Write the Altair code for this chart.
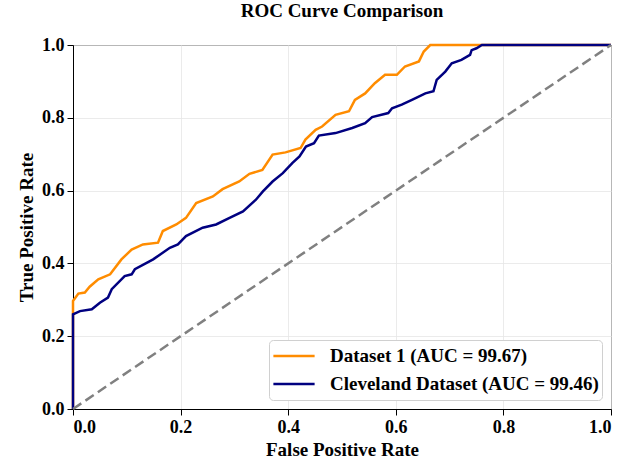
import altair as alt
import pandas as pd

# Dataset 1 ROC (FPR, TPR)
d1_fpr = [0.0, 0.0, 0.010, 0.022, 0.031, 0.047, 0.069, 0.090, 0.109, 0.130, 0.158, 0.167, 0.192,
          0.210, 0.229, 0.260, 0.278, 0.309, 0.328, 0.352, 0.371, 0.395, 0.423, 0.432, 0.451,
          0.463, 0.488, 0.513, 0.524, 0.543, 0.561, 0.580, 0.602, 0.617, 0.643, 0.652, 0.664, 1.0]
d1_tpr = [0.0, 0.297, 0.317, 0.320, 0.336, 0.356, 0.370, 0.411, 0.438, 0.452, 0.457, 0.489, 0.507,
          0.525, 0.566, 0.584, 0.604, 0.625, 0.646, 0.657, 0.699, 0.705, 0.717, 0.740, 0.767,
          0.776, 0.808, 0.818, 0.849, 0.867, 0.895, 0.918, 0.918, 0.941, 0.955, 0.982, 1.0, 1.0]

# Cleveland Dataset ROC (FPR, TPR)
d2_fpr = [0.0, 0.0, 0.013, 0.035, 0.050, 0.065, 0.072, 0.096, 0.109, 0.115, 0.149, 0.180, 0.195,
          0.210, 0.241, 0.266, 0.291, 0.316, 0.340, 0.353, 0.371, 0.390, 0.408, 0.421, 0.433,
          0.448, 0.457, 0.488, 0.519, 0.543, 0.556, 0.586, 0.593, 0.611, 0.630, 0.655, 0.670,
          0.676, 0.692, 0.704, 0.722, 0.738, 0.741, 0.750, 0.760, 1.0]
d2_tpr = [0.0, 0.260, 0.269, 0.274, 0.292, 0.306, 0.329, 0.365, 0.370, 0.384, 0.411, 0.443, 0.452,
          0.475, 0.498, 0.507, 0.525, 0.543, 0.575, 0.598, 0.625, 0.648, 0.676, 0.694, 0.721,
          0.730, 0.751, 0.758, 0.772, 0.785, 0.802, 0.813, 0.826, 0.836, 0.849, 0.867, 0.873,
          0.904, 0.927, 0.950, 0.959, 0.973, 0.986, 0.991, 1.0, 1.0]

series_names = ["Dataset 1 (AUC = 99.67)", "Cleveland Dataset (AUC = 99.46)"]
series_colors = ["#FF8C00", "#000080"]

diag_x = [0.0, 1.0]
diag_y = [0.0, 1.0]

rows = []
for name, fx, ty in [(series_names[0], d1_fpr, d1_tpr), (series_names[1], d2_fpr, d2_tpr)]:
    for i, (a, b) in enumerate(zip(fx, ty)):
        rows.append({"series": name, "fpr": a, "tpr": b, "i": i})
df = pd.DataFrame(rows)
ddf = pd.DataFrame({"fpr": diag_x, "tpr": diag_y})

FONT = "Liberation Serif"
xscale = alt.Scale(domain=[0, 1], nice=False, zero=False)
yscale = alt.Scale(domain=[0, 1], nice=False, zero=False)
ticks = [0.0, 0.2, 0.4, 0.6, 0.8, 1.0]

diag = alt.Chart(ddf).mark_line(color="#808080", strokeWidth=2.5, strokeDash=[10, 5]).encode(
    x=alt.X("fpr:Q", scale=xscale),
    y=alt.Y("tpr:Q", scale=yscale),
)

lines = alt.Chart(df).mark_line(strokeWidth=2.5).encode(
    x=alt.X("fpr:Q", scale=xscale, title="False Positive Rate",
            axis=alt.Axis(values=ticks, format=".1f")),
    y=alt.Y("tpr:Q", scale=yscale, title="True Positive Rate",
            axis=alt.Axis(values=ticks, format=".1f")),
    color=alt.Color("series:N", sort=series_names,
                    scale=alt.Scale(domain=series_names, range=series_colors),
                    legend=alt.Legend(title=None, orient="bottom-right", offset=9,
                                      symbolType="stroke", symbolStrokeWidth=2.5,
                                      symbolSize=1700, labelFont=FONT, labelFontSize=19,
                                      labelFontWeight="bold", labelColor="black",
                                      strokeColor="#d0d0d0", fillColor="white",
                                      padding=3, cornerRadius=4, rowPadding=2,
                                      clipHeight=26,
                                      labelOffset=14, labelLimit=500)),
    order=alt.Order("i:Q"),
)

chart = alt.layer(lines, diag).properties(
    width=538, height=364,
    title=alt.Title("ROC Curve Comparison", font=FONT, fontSize=19, fontWeight="bold",
                    color="black", offset=15),
    padding={"left": 73, "top": 45, "right": 29, "bottom": 50},
    autosize=alt.AutoSizeParams(type="none"),
).configure_view(
    stroke="black", strokeWidth=1
).configure_axis(
    labelFont=FONT, labelFontSize=18, labelFontWeight="bold", labelColor="black",
    titleFont=FONT, titleFontSize=19, titleFontWeight="bold", titleColor="black",
    domainColor="black", tickColor="black", tickSize=6, labelPadding=3,
    gridColor="#e6e6e6", gridWidth=0.8,
).configure_axisX(titlePadding=4).configure_axisY(titlePadding=5)

chart.save("out.html", embed_options={"renderer": "svg", "actions": False})
